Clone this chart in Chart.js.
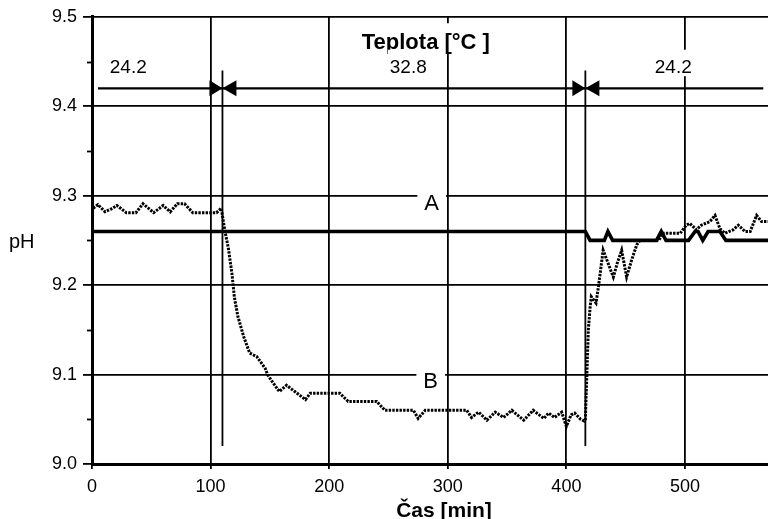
<!DOCTYPE html>
<html><head><meta charset="utf-8">
<script src="https://cdn.jsdelivr.net/npm/chart.js@4/dist/chart.umd.min.js"></script>
<style>html,body{margin:0;padding:0;background:#fff}#wrap{width:768px;height:519px;position:relative}canvas{display:block}</style>
</head><body><div id="wrap"><canvas id="c" width="768" height="519"></canvas></div>
<script>
// ---- data ----
const timeA = [0, 416, 420, 432, 435, 439, 476, 480, 484, 503, 508.5, 511, 515, 519.5, 529.5, 534.5, 570];
const phA   = [9.26, 9.26, 9.25, 9.25, 9.26, 9.25, 9.25, 9.26, 9.25, 9.25, 9.26, 9.26, 9.25, 9.26, 9.26, 9.25, 9.25];

const timeB = [1, 5, 11, 16, 21, 29, 37, 43, 52, 60, 66, 72, 78, 85, 105, 109, 112, 115, 118, 120, 123, 128, 133, 139, 146, 148, 152, 158, 164, 171, 180, 184, 209, 216, 240, 247, 271, 275, 281, 316, 320, 326, 333, 340, 347, 354, 364, 372, 381, 385, 390, 396, 400, 404, 407, 412, 415, 416, 417, 418.5, 420, 421, 425, 427, 431, 435, 439.6, 443, 446.6, 450.8, 455, 459.3, 462, 478, 481, 496, 501, 504, 509.6, 513.8, 521, 525.3, 529.5, 533.7, 540.7, 545, 550.6, 555, 560.4, 564.6, 570];
const phB   = [9.286, 9.290, 9.282, 9.285, 9.289, 9.281, 9.281, 9.291, 9.281, 9.289, 9.282, 9.291, 9.291, 9.281, 9.281, 9.286, 9.261, 9.241, 9.213, 9.187, 9.165, 9.142, 9.124, 9.120, 9.107, 9.100, 9.092, 9.081, 9.088, 9.081, 9.072, 9.079, 9.079, 9.070, 9.070, 9.060, 9.060, 9.051, 9.060, 9.060, 9.052, 9.058, 9.049, 9.058, 9.052, 9.060, 9.049, 9.060, 9.051, 9.057, 9.052, 9.058, 9.042, 9.055, 9.057, 9.050, 9.048, 9.050, 9.090, 9.150, 9.175, 9.187, 9.180, 9.198, 9.239, 9.225, 9.209, 9.225, 9.239, 9.209, 9.228, 9.245, 9.250, 9.250, 9.258, 9.258, 9.267, 9.269, 9.262, 9.267, 9.271, 9.278, 9.263, 9.258, 9.262, 9.267, 9.260, 9.260, 9.278, 9.271, 9.271];

const xTicks = [0, 100, 200, 300, 400, 500];
const yTicks = [9.0, 9.1, 9.2, 9.3, 9.4, 9.5];
const yMinorTicks = [9.05, 9.15, 9.25, 9.35, 9.45];
const tempChangeTimes = [110, 416];
const tempValues = ['24.2', '32.8', '24.2'];
const tempTitle = 'Teplota [°C ]';
const seriesLabels = ['A', 'B'];
const xTitle = 'Čas [min]';
const yTitle = 'pH';

// ---- layout of annotations (positions in axis units) ----
const FONT = '"Liberation Sans", Arial, Helvetica, sans-serif';
const INK = '#000';
const annot = {
  titleAt: {x: 281.5, y: 9.4637},
  valueAt: [{x: 30.6, y: 9.4375}, {x: 266.7, y: 9.4375}, {x: 490.1, y: 9.4375}],
  arrowY: 9.42, arrowFrom: 5, arrowTo: 566,
  markerTop: 9.44, markerBottom: 9.02,
  labelAt: [{x: 286.4, y: 9.2835}, {x: 285.6, y: 9.0845}],
  yTitleAt: {px: 21.7, y: 9.242},
  xTitleAt: {x: 296.8, py: 516.5}
};

function textBox(ctx, txt, cx, by, font, padX, top, bottom) {
  ctx.font = font;
  const w = ctx.measureText(txt).width;
  ctx.fillStyle = '#fff';
  ctx.fillRect(cx - w / 2 - padX, top, w + 2 * padX, bottom - top);
}

const annPlugin = {
  id: 'ann',
  afterDraw(chart) {
    const {ctx, scales: {x, y}} = chart;
    ctx.save();
    ctx.strokeStyle = INK; ctx.fillStyle = INK;
    // minor y ticks
    ctx.lineWidth = 1.8;
    yMinorTicks.forEach(v => {
      const py = Math.round(y.getPixelForValue(v)) + 0.5;
      ctx.beginPath(); ctx.moveTo(x.left - 5, py); ctx.lineTo(x.left, py); ctx.stroke();
    });
    // temperature change markers
    ctx.lineWidth = 1.8;
    tempChangeTimes.forEach(t => {
      const px = x.getPixelForValue(t);
      ctx.beginPath();
      ctx.moveTo(px, y.getPixelForValue(annot.markerTop));
      ctx.lineTo(px, y.getPixelForValue(annot.markerBottom));
      ctx.stroke();
    });
    // arrow line
    const ay = y.getPixelForValue(annot.arrowY);
    ctx.lineWidth = 2.2;
    ctx.beginPath();
    ctx.moveTo(x.getPixelForValue(annot.arrowFrom), ay);
    ctx.lineTo(x.getPixelForValue(annot.arrowTo), ay);
    ctx.stroke();
    ctx.fillStyle = INK;
    tempChangeTimes.forEach(t => {
      const px = x.getPixelForValue(t);
      ctx.beginPath();
      ctx.moveTo(px, ay); ctx.lineTo(px - 13, ay - 8); ctx.lineTo(px - 13, ay + 8); ctx.closePath(); ctx.fill();
      ctx.beginPath();
      ctx.moveTo(px, ay); ctx.lineTo(px + 14, ay - 8); ctx.lineTo(px + 14, ay + 8); ctx.closePath(); ctx.fill();
    });
    // title box & text
    const tf = 'bold 22px ' + FONT;
    const tx = x.getPixelForValue(annot.titleAt.x), tby = y.getPixelForValue(annot.titleAt.y);
    textBox(ctx, tempTitle, tx, tby, tf, 3, tby - 26, tby + 3.5);
    ctx.fillStyle = INK; ctx.font = tf; ctx.textAlign = 'center'; ctx.textBaseline = 'alphabetic';
    ctx.fillText(tempTitle, tx, tby);
    // temperature values
    const vf = '19px ' + FONT;
    tempValues.forEach((s, i) => {
      const p = annot.valueAt[i];
      const vx = x.getPixelForValue(p.x), vy = y.getPixelForValue(p.y);
      textBox(ctx, s, vx, vy, vf, 2, vy - 23, vy + 3.5);
      ctx.fillStyle = INK; ctx.font = vf; ctx.textAlign = 'center';
      ctx.fillText(s, vx, vy);
    });
    // series labels
    const lf = '22px ' + FONT;
    seriesLabels.forEach((s, i) => {
      const p = annot.labelAt[i];
      const lx = x.getPixelForValue(p.x), ly = y.getPixelForValue(p.y);
      textBox(ctx, s, lx, ly, lf, 7, ly - 20, ly + 3);
      ctx.fillStyle = INK; ctx.font = lf; ctx.textAlign = 'center';
      ctx.fillText(s, lx, ly);
    });
    // axis titles
    ctx.fillStyle = INK;
    ctx.font = '20px ' + FONT; ctx.textAlign = 'center';
    ctx.fillText(yTitle, annot.yTitleAt.px, y.getPixelForValue(annot.yTitleAt.y));
    ctx.font = 'bold 21px ' + FONT;
    ctx.fillText(xTitle, x.getPixelForValue(annot.xTitleAt.x), annot.xTitleAt.py);
    ctx.restore();
  }
};

const ptsA = timeA.map((t, i) => ({x: t, y: phA[i]}));
const ptsB = timeB.map((t, i) => ({x: t, y: phB[i]}));

new Chart(document.getElementById('c').getContext('2d'), {
  type: 'line',
  data: {
    datasets: [
      {label: seriesLabels[0], data: ptsA, borderColor: INK, borderWidth: 3.6, pointRadius: 0, tension: 0, fill: false},
      {label: seriesLabels[1], data: ptsB, borderColor: INK, borderWidth: 3, borderDash: [2.4, 1.2], pointRadius: 0, tension: 0, fill: false}
    ]
  },
  options: {
    responsive: false, animation: false, devicePixelRatio: 1,
    layout: {padding: {top: 16, right: 0, bottom: 0, left: 0}},
    plugins: {legend: {display: false}, tooltip: {enabled: false}},
    scales: {
      x: {
        type: 'linear', min: 0, max: 570,
        afterFit(s) { s.height = 55; },
        afterBuildTicks(s) { s.ticks = xTicks.map(v => ({value: v})); },
        ticks: {color: INK, font: {family: FONT, size: 18}, padding: 7, maxRotation: 0, autoSkip: false},
        grid: {color: INK, lineWidth: 1.8, tickLength: 5, tickColor: INK, tickWidth: 1.8},
        border: {color: INK, width: 3}
      },
      y: {
        type: 'linear', min: 9.0, max: 9.5,
        afterFit(s) { s.width = 92; },
        afterBuildTicks(s) { s.ticks = yTicks.map(v => ({value: v})); },
        ticks: {color: INK, font: {family: FONT, size: 18}, padding: 6, autoSkip: false, callback: v => Number(v).toFixed(1)},
        grid: {color: INK, lineWidth: 1.8, tickLength: 9, tickColor: INK, tickWidth: 1.8},
        border: {color: INK, width: 3}
      }
    }
  },
  plugins: [annPlugin]
});
</script>
</body></html>
